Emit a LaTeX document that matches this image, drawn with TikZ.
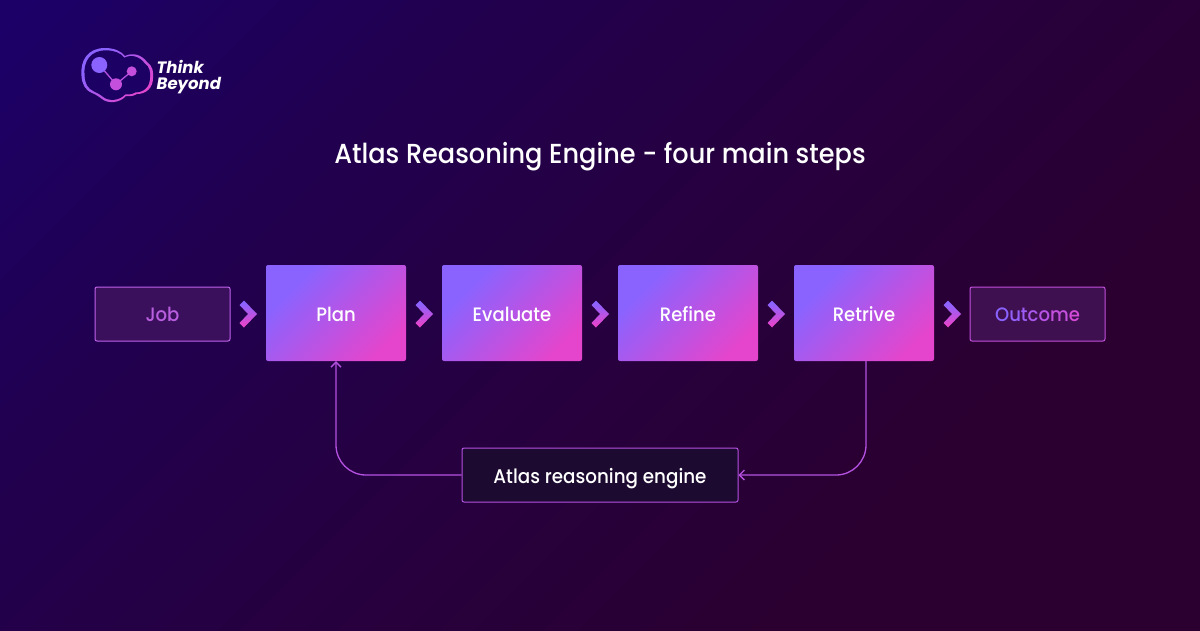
\documentclass[tikz,border=0pt]{standalone}
\usepackage{fontspec}
\setmainfont[FakeStretch=0.93]{Poppins Medium}
\newfontfamily\logofont{Poppins}
\usetikzlibrary{arrows.meta,calc}
\definecolor{bgA}{HTML}{1C0068}
\definecolor{bgM}{HTML}{210050}
\definecolor{bgB}{HTML}{26003F}
\definecolor{bgC}{HTML}{2B0030}
\definecolor{gradA}{HTML}{8A63FF}
\definecolor{gradB}{HTML}{E545CC}
\definecolor{lineC}{HTML}{B552E2}
\definecolor{lineP}{HTML}{C34FDC}
\definecolor{ghostFill}{HTML}{3A0F5C}
\definecolor{outFill}{HTML}{3E1050}
\definecolor{ghostLine}{HTML}{C063EC}
\definecolor{ghostText}{HTML}{B85EDE}
\definecolor{engFill}{HTML}{1C0A30}
\pgfdeclareverticalshading{bgshade}{100bp}{color(0bp)=(bgC); color(30bp)=(bgC); color(50bp)=(bgB); color(68bp)=(bgM); color(85bp)=(bgA); color(100bp)=(bgA)}
\pgfdeclareverticalshading{boxshade}{100bp}{color(0bp)=(gradB); color(25bp)=(gradB); color(71bp)=(gradA); color(100bp)=(gradA)}
\pgfdeclareverticalshading{chevshade}{100bp}{color(0bp)=(gradB); color(30bp)=(gradB); color(70bp)=(gradA); color(100bp)=(gradA)}
\tikzset{
  x=1pt,y=-1pt,
  labelfont/.style={font=\fontsize{19.4}{22}\selectfont},
  stepbox/.style={minimum width=140pt,minimum height=96pt,rounded corners=2pt,shading=boxshade,shading angle=45,text=white,labelfont,inner sep=0pt,text height=19pt,text depth=3pt},
  ghostbox/.style={minimum width=135pt,minimum height=54pt,rounded corners=2pt,fill=ghostFill,draw=ghostLine,line width=1pt,text=ghostText,labelfont,inner sep=0pt,text height=17pt,text depth=3pt},
  enginebox/.style={minimum width=276pt,minimum height=54pt,rounded corners=2pt,fill=engFill,draw=lineC,line width=1pt,text=white,font=\fontsize{19.7}{22}\selectfont,inner sep=0pt,text height=19.6pt,text depth=3pt},
  chev/.style={shading=chevshade,shading angle=0},
  conn/.style={draw=lineC,line width=1.3pt},
  tipopen/.style={-{Straight Barb[length=5pt,width=10pt,line width=1.3pt]}},
}
\newcommand{\chevron}[1]{\shade[chev] (#1-8.5,305) -- (#1-4,300.5) -- (#1+9,314) -- (#1-4,327.5) -- (#1-8.5,323) -- (#1,314) -- cycle;}
\newcommand{\gc}[2]{{\color{gradA!#1!gradB}#2}}
\begin{document}
\begin{tikzpicture}
\useasboundingbox (0,0) rectangle (1200,630);
\shade[shading=bgshade,shading angle=45] (0,0) rectangle (1200,630);
% logo
\def\cloudpath{(81.5,76) .. controls (80,60) and (88,48) .. (105,48) .. controls (114,48) and (121,51) .. (125,56) .. controls (133,52) and (142,55) .. (147,62) .. controls (153,66) and (153.5,72) .. (153,78) .. controls (153,88) and (146,94) .. (137,94) .. controls (132,97) and (128,96) .. (126,96) .. controls (120,103) and (108,104) .. (102,99) .. controls (98,96) and (95,94) .. (92,93) .. controls (85,90) and (82,84) .. (81.5,76) -- cycle}
\shade[shading=boxshade,shading angle=45] \cloudpath;
\fill[bgA!80!bgM,shift={(117.5,75.5)},scale=0.915,shift={(-117.5,-75.5)}] \cloudpath;
\draw[lineC,line width=1.3pt] (99.3,65) -- (116,84.3) -- (131.7,71.3);
\fill[gradA] (99.3,65) circle[radius=8];
\fill[lineP] (131.7,71.3) circle[radius=5];
\fill[lineP] (116,84.3) circle[radius=6];
\node[anchor=base west,inner sep=0pt,text=white,font=\logofont\bfseries\itshape\fontsize{16.5}{18}\selectfont] (logoA) at (156.5,73) {Think};
\node[anchor=base west,inner sep=0pt,text=white,font=\logofont\bfseries\itshape\fontsize{16.5}{18}\selectfont] (logoB) at (156.5,89.5) {Beyond};
% title
\node[anchor=base,text=white,inner sep=0pt,font=\fontsize{27.5}{32}\selectfont] (title) at (600,163) {Atlas Reasoning Engine - four main steps};
% boxes
\node[ghostbox] (job) at (162.5,314) {Job};
\node[stepbox] (plan) at (336,313) {Plan};
\node[stepbox] (eval) at (512,313) {Evaluate};
\node[stepbox] (refine) at (688,313) {Refine};
\node[stepbox] (retrive) at (864,313) {Retrive};
\node[ghostbox,fill=outFill,draw=lineP] (outcome) at (1037.5,314) {\gc{100}{O}\gc{90}{u}\gc{80}{t}\gc{65}{c}\gc{50}{o}\gc{35}{m}\gc{20}{e}};
\node[enginebox] (engine) at (600,475) {Atlas reasoning engine};
% chevrons
\chevron{248}\chevron{424}\chevron{600}\chevron{776}\chevron{952}
% connectors
\draw[conn,rounded corners=30pt,tipopen] (engine.west) -| (plan.south);
\draw[conn,rounded corners=30pt,tipopen] ([xshift=2pt]retrive.south) |- (engine.east);
\end{tikzpicture}
\end{document}
